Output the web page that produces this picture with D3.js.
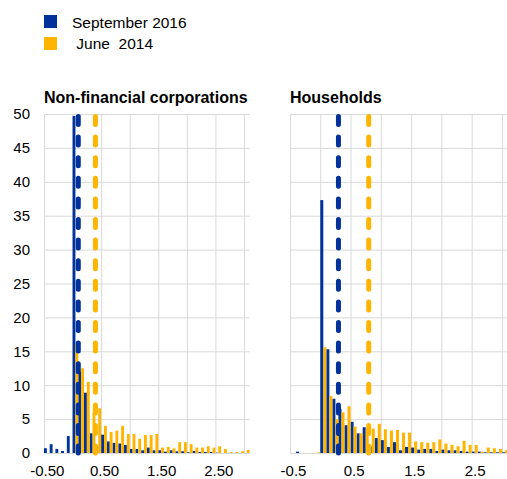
<!DOCTYPE html>
<head>
  <meta charset="utf-8">
  <script src="https://d3js.org/d3.v7.min.js"></script>
  <style>
    body { margin: 0; background: #fff; }
    text { font-family: Arial, 'Liberation Sans', sans-serif; fill: #000; }
    .title { font-weight: bold; font-size: 16px; }
    .legend text { font-size: 15.5px; white-space: pre; }
    .tick text { font-size: 15px; }
    .grid line { stroke: #d9d9d9; stroke-width: 1; }
    .grid path, .axis path { display: none; }
  </style>
</head>
<body>
  <script>
    // bins of 0.1 percentage points (lower edge)
    var bins = [-0.5, -0.4, -0.3, -0.2, -0.1, 0.0, 0.1, 0.2, 0.3, 0.4, 0.5, 0.6,
                0.7, 0.8, 0.9, 1.0, 1.1, 1.2, 1.3, 1.4, 1.5, 1.6, 1.7, 1.8,
                1.9, 2.0, 2.1, 2.2, 2.3, 2.4, 2.5, 2.6, 2.7, 2.8, 2.9, 3.0];

    var seriesNames = ["September 2016", " June  2014"];

    var nfcSep2016 = [0.7, 1.3, 0.6, 0.3, 2.5, 49.7, 12, 8.9, 2.9, 1.0, 2.7, 1.7,
                      1.5, 1.4, 1.2, 0.6, 0.6, 0.4, 0.8, 0.4, 0.4, 0.2, 0.4, 0.25,
                      0.25, 0.1, 0.3, 0.15, 0.15, 0.15, 0.05, 0, 0, 0, 0, 0];
    var nfcJun2014 = [0, 0, 0, 0, 0, 16, 12.5, 10.5, 6.0, 6.6, 4.0, 3.1,
                      3.3, 4.0, 2.8, 2.8, 2.1, 2.65, 2.65, 2.8, 0.8, 0.9, 0.7, 1.6,
                      1.6, 1.3, 0.8, 0.8, 1.0, 0.8, 1.0, 0.6, 0.15, 0.15, 0.25, 0.45];

    var hhSep2016 = [0, 0.2, 0, 0, 0, 37.3, 15.3, 8.0, 6.5, 4.1, 4.6, 2.9,
                     3.8, 1.0, 2.2, 1.9, 0.9, 1.6, 0.4, 0.9, 0.8, 0.5, 0.6, 0.6,
                     0.3, 0.5, 0.4, 0.4, 0.3, 0.2, 0.2, 0.2, 0.1, 0.1, 0.1, 0.1];
    var hhJun2014 = [0, 0, 0, 0, 0.1, 15.6, 8.4, 5.0, 6.0, 6.9, 3.9, 2.9,
                     3.5, 3.6, 4.3, 3.5, 3.3, 3.4, 3.0, 3.0, 1.7, 1.6, 1.5, 1.6,
                     2.0, 1.4, 1.2, 1.0, 1.8, 1.2, 1.2, 0.2, 0.8, 0.7, 0.6, 0.4];

    // averages shown as dashed lines
    var nfcMeans = [0.10, 0.40];
    var hhMeans = [0.30, 0.80];

    var yTicks = [0, 5, 10, 15, 20, 25, 30, 35, 40, 45, 50];
    var xGrid = [-0.5, 0, 0.5, 1.0, 1.5, 2.0, 2.5, 3.0];
    var xTicks = [-0.5, 0.5, 1.5, 2.5];
    var nfcTickLabels = ["-0.50", "0.50", "1.50", "2.50"];
    var hhTickLabels = ["-0.5", "0.5", "1.5", "2.5"];

    var colors = ["#003299", "#ffb400"];
    var binWidth = 0.1;

    var svg = d3.select("body").append("svg")
        .attr("width", 507)
        .attr("height", 479);

    // legend
    var legend = svg.append("g").attr("class", "legend");
    seriesNames.forEach(function(name, i) {
      legend.append("rect")
          .attr("x", 44).attr("y", 15 + i * 22)
          .attr("width", 13).attr("height", 13)
          .attr("fill", colors[i]);
      legend.append("text")
          .attr("x", 72).attr("y", 28 + i * 21)
          .attr("xml:space", "preserve")
          .text(name);
    });

    var y = d3.scaleLinear()
        .domain([0, 50])
        .range([453, 114]);

    function panel(opts) {
      var x = d3.scaleLinear()
          .domain([-0.5, 3.1])
          .range([opts.left, opts.right]);

      var g = svg.append("g");

      svg.append("text")
          .attr("class", "title")
          .attr("x", opts.left)
          .attr("y", 103)
          .text(opts.title);

      // horizontal gridlines
      g.append("g")
          .attr("class", "grid")
          .attr("transform", "translate(" + opts.left + ",0)")
          .call(d3.axisLeft(y).tickValues(yTicks)
              .tickSize(-(opts.right - opts.left)).tickFormat(""));

      // vertical gridlines
      g.append("g")
          .attr("class", "grid")
          .attr("transform", "translate(0," + y(0) + ")")
          .call(d3.axisBottom(x).tickValues(xGrid)
              .tickSize(-(y(0) - y(50))).tickFormat(""));

      var rows = bins.map(function(b, i) {
        return { bin: b, v: [opts.sep[i], opts.jun[i]] };
      });

      // blue bar in left half of the bin, yellow in right half
      [0, 1].forEach(function(s) {
        g.selectAll(".bar" + s)
            .data(rows)
          .enter().append("rect")
            .attr("fill", colors[s])
            .attr("x", function(d) { return x(d.bin + s * binWidth / 2); })
            .attr("width", function(d) { return x(d.bin + binWidth / 2) - x(d.bin); })
            .attr("y", function(d) { return y(d.v[s]); })
            .attr("height", function(d) { return y(0) - y(d.v[s]); });
      });

      // mean lines
      g.selectAll(".mean")
          .data(opts.means)
        .enter().append("line")
          .attr("x1", function(d) { return x(d); })
          .attr("x2", function(d) { return x(d); })
          .attr("y1", y(50) + 2.5)
          .attr("y2", y(0))
          .attr("stroke", function(d, i) { return colors[i]; })
          .attr("stroke-width", 5)
          .attr("stroke-linecap", "round")
          .attr("stroke-dasharray", "8,12.6");

      // x axis labels (centred on the bin)
      g.append("g")
          .attr("class", "axis")
          .attr("transform", "translate(0," + y(0) + ")")
          .call(d3.axisBottom(x)
              .tickValues(xTicks.map(function(t) { return t + binWidth / 2; }))
              .tickSize(0).tickPadding(12)
              .tickFormat(function(d, i) { return opts.labels[i]; }));

      if (opts.yLabels) {
        g.append("g")
            .attr("class", "axis")
            .attr("transform", "translate(" + opts.left + ",0)")
            .call(d3.axisLeft(y).tickValues(yTicks).tickSize(0).tickPadding(14));
      }
    }

    panel({ title: "Non-financial corporations", left: 44, right: 249.7,
            sep: nfcSep2016, jun: nfcJun2014, means: nfcMeans,
            labels: nfcTickLabels, yLabels: true });

    panel({ title: "Households", left: 290, right: 508,
            sep: hhSep2016, jun: hhJun2014, means: hhMeans,
            labels: hhTickLabels, yLabels: false });
  </script>
</body>
